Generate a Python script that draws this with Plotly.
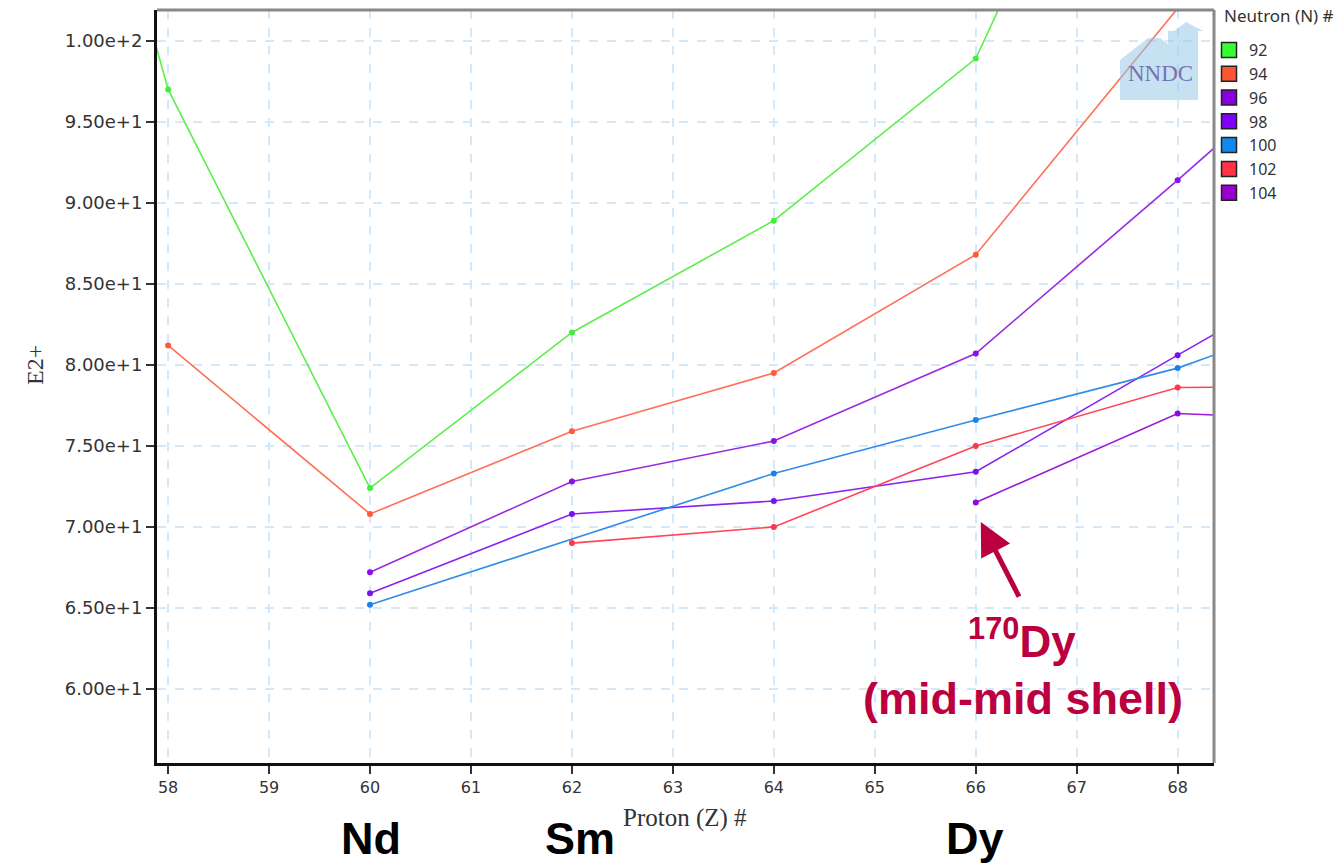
import plotly.graph_objects as go

# ---- data ----
Z_92 = [56, 58, 60, 62, 64, 66, 68]
E_92 = [141.7, 97.0, 72.4, 82.0, 88.9, 98.9, 125.8]
Z_94 = [58, 60, 62, 64, 66, 68]
E_94 = [81.2, 70.8, 75.9, 79.5, 86.8, 102.0]
Z_96 = [60, 62, 64, 66, 68, 70]
E_96 = [67.2, 72.8, 75.3, 80.7, 91.4, 102.4]
Z_98 = [60, 62, 64, 66, 68, 70]
E_98 = [65.9, 70.8, 71.6, 73.4, 80.6, 87.7]
Z_100 = [60, 64, 66, 68, 70]
E_100 = [65.2, 73.3, 76.6, 79.8, 84.3]
Z_102 = [62, 64, 66, 68, 70]
E_102 = [69.0, 70.0, 75.0, 78.6, 78.7]
Z_104 = [66, 68, 70]
E_104 = [71.5, 77.0, 76.5]

series_names = ["92", "94", "96", "98", "100", "102", "104"]
series_z = [Z_92, Z_94, Z_96, Z_98, Z_100, Z_102, Z_104]
series_e = [E_92, E_94, E_96, E_98, E_100, E_102, E_104]
line_colors = ["#5cee4c", "#ff7056", "#9a2ae2", "#8a22f0", "#2f8ce8", "#ff4657", "#9a1ad8"]
marker_colors = ["#3df03d", "#ff5a3a", "#8a10e8", "#7a10f0", "#1a80ea", "#ff3848", "#8e0ae0"]
legend_colors = ["#33ff33", "#ff5533", "#8800dd", "#7f00ff", "#1188ee", "#ff3344", "#9900cc"]

x_ticks = list(range(58, 69))
y_ticks = [60, 65, 70, 75, 80, 85, 90, 95, 100]

# page-pixel frame of the plotting area
W, H = 1339, 865
L, R, T, B = 157, 1214, 10, 763

def px(x):
    return (x - L) / (R - L)
def py(y):
    return (B - y) / (B - T)

fig = go.Figure()
for name, zs, es, lc, mc in zip(series_names, series_z, series_e, line_colors, marker_colors):
    fig.add_trace(go.Scatter(x=zs, y=es, mode="lines+markers", name=name,
                             line=dict(color=lc, width=1.6),
                             marker=dict(color=mc, size=6),
                             showlegend=False))
# legend entries (square swatches)
for name, c in zip(series_names, legend_colors):
    fig.add_trace(go.Scatter(x=[None], y=[None], mode="markers", name=name,
                             marker=dict(symbol="square", color=c, size=15,
                                         line=dict(color="#222", width=1.5)),
                             showlegend=True))

house = [(1120, 100), (1120, 60), (1148, 38), (1160, 38), (1168, 44), (1168, 31),
         (1174, 31), (1186, 22), (1203, 31), (1198, 31), (1198, 100)]
path = "M " + " L ".join(f"{px(x):.4f},{py(y):.4f}" for x, y in house) + " Z"

shapes = [
    dict(type="path", path=path, xref="paper", yref="paper",
         fillcolor="rgba(150,200,232,0.55)", line=dict(width=0), layer="above"),
    dict(type="line", xref="paper", yref="paper", x0=0, x1=1, y0=1, y1=1,
         line=dict(color="#888", width=3)),
    dict(type="line", xref="paper", yref="paper", x0=1, x1=1, y0=0, y1=1,
         line=dict(color="#888", width=3)),
]

red = "#bb0040"
def ann(text, x, y, size, family="Liberation Sans", color="black", **kw):
    d = dict(text=text, x=px(x), y=py(y), xref="paper", yref="paper", showarrow=False,
             xanchor="center", yanchor="middle",
             font=dict(family=family, size=size, color=color))
    d.update(kw)
    return d

annotations = [
    ann("NNDC", 1160, 73, 23, family="Liberation Serif", color="#7a72b0"),
    dict(text="", x=66.05, y=70.3, xref="x", yref="y", ax=39, ay=76,
         showarrow=True, arrowhead=2, arrowsize=1.3, arrowwidth=5, arrowcolor=red),
    ann("<b><sup>170</sup>Dy</b>", 1022, 638, 44, color=red),
    ann("<b>(mid-mid shell)</b>", 1023, 698, 45, color=red),
    ann("<b>Nd</b>", 371, 839, 45),
    ann("<b>Sm</b>", 580, 839, 45),
    ann("<b>Dy</b>", 975, 839, 45),
    ann("Proton (Z) #", 685, 818, 25, family="Liberation Serif", color="#333"),
    ann("E2+", 35, 365, 24, family="Liberation Serif", color="#333", textangle=-90),
    ann("Neutron (N) #", 1222, 16, 17, family="Noto Sans", color="#333", xanchor="left"),
]

fig.update_layout(
    width=W, height=H,
    margin=dict(l=L, r=W - R, t=T, b=H - B),
    paper_bgcolor="white", plot_bgcolor="white",
    font=dict(family="DejaVu Sans", color="#333"),
    shapes=shapes, annotations=annotations,
    legend=dict(x=px(1209), y=py(33), xanchor="left", yanchor="top",
                font=dict(family="Noto Sans", size=16, color="#333"),
                bgcolor="rgba(0,0,0,0)", itemwidth=30, tracegroupgap=0),
    xaxis=dict(range=[57.89, 68.36], tickvals=x_ticks, showgrid=True,
               gridcolor="#d4e8fc", griddash="dash", gridwidth=1.5,
               showline=True, linecolor="#111", linewidth=3,
               ticks="outside", ticklen=8, tickwidth=2, tickcolor="#333",
               tickfont=dict(size=16, color="#333"), zeroline=False),
    yaxis=dict(range=[55.43, 101.9], tickvals=y_ticks, tickformat=".2e", showgrid=True,
               gridcolor="#d4e8fc", griddash="dash", gridwidth=1.5,
               showline=True, linecolor="#111", linewidth=3,
               ticks="outside", ticklen=8, tickwidth=2, tickcolor="#333",
               tickfont=dict(size=18, color="#333"), zeroline=False),
)

# remove the default 8px page margin so the figure fills the window exactly
fig.write_html("out.html", config={"displayModeBar": False},
               post_script="document.body.style.margin='0';document.body.style.overflow='hidden';")
